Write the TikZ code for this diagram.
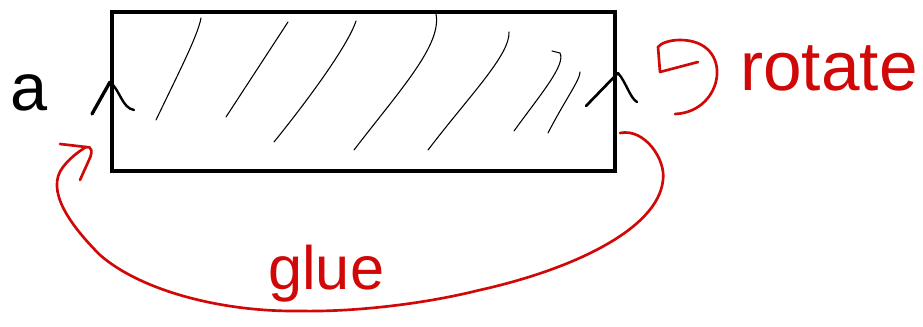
\documentclass[tikz,border=0pt]{standalone}
\usepackage{fontspec}
\setmainfont{Liberation Sans}
\definecolor{pen}{RGB}{208,8,8}
\tikzset{
  hatch/.style={line width=0.8pt, line cap=round},
  redink/.style={pen, line width=2pt, line cap=round, line join=round},
  hand/.style={inner sep=0pt, anchor=base west}
}
\begin{document}
\begin{tikzpicture}[x=0.75pt, y=-0.75pt]
  \useasboundingbox (0,0) rectangle (923,327);
  \node[draw, line width=3pt, minimum width=377pt, minimum height=119pt, inner sep=0pt] (strip) at (363.5,91.5) {};
  % hatching
  \draw[hatch] (156,120) .. controls (180,70) and (198,35) .. (201,18);
  \draw[hatch] (226,117) -- (288,22);
  \draw[hatch] (274,142) .. controls (320,85) and (350,40) .. (356,21);
  \draw[hatch] (354,150) .. controls (400,90) and (442,45) .. (436,14);
  \draw[hatch] (428,150) .. controls (470,95) and (510,55) .. (509,32);
  \draw[hatch] (514,131) .. controls (540,95) and (566,65) .. (560,53) -- (552,51);
  \draw[hatch] (548,133) .. controls (565,100) and (580,80) .. (580,72);
  % edge marks
  \draw[line width=2.5pt, line cap=round] (92,114) -- (110,82);
  \draw[line width=1.8pt, line cap=round] (110,82) .. controls (120,90) and (122,108) .. (134,110);
  \draw[line width=2pt, line cap=round] (586,106) -- (618,73);
  \draw[line width=1.8pt, line cap=round] (618,73) .. controls (626,82) and (630,98) .. (637,102);
  \node[hand, font=\fontsize{50}{60}\selectfont] (lbl) at (10,111) {a};
  % rotate
  \node[hand, pen, font=\fontsize{52}{62}\selectfont] (rot) at (740,91) {rotate};
  \draw[redink] (675,114) .. controls (725,112) and (735,40) .. (680,40)
    .. controls (670,40) and (661,43) .. (658,47) -- (660,72) -- (698,62);
  % glue
  \coordinate (gluestart) at (620,133);
  \coordinate (gluetip) at (86,147);
  \draw[redink] (gluestart) .. controls (645,128) and (666,160) .. (663,180)
    .. controls (658,230) and (570,270) .. (480,290)
    .. controls (420,305) and (350,312) .. (300,311)
    .. controls (220,312) and (140,290) .. (100,255)
    .. controls (70,225) and (45,190) .. (63,167)
    .. controls (70,158) and (78,152) .. (gluetip);
  \draw[redink] (gluetip) -- (60,144);
  \draw[redink] (gluetip) .. controls (92,146) and (93,152) .. (89,160) -- (80,180);
  \node[hand, pen, font=\fontsize{46}{55}\selectfont] (glue) at (268,290) {glue};
\end{tikzpicture}
\end{document}
